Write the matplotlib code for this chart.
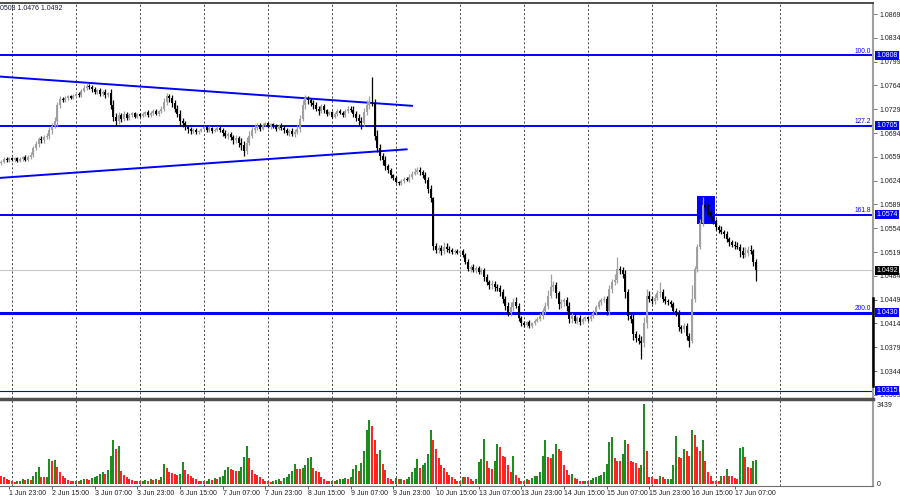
import matplotlib.pyplot as plt
import matplotlib.transforms as mtransforms
from matplotlib.patches import Rectangle
from matplotlib.lines import Line2D
import numpy as np

plt.rcParams['font.family'] = ['Liberation Sans', 'DejaVu Sans']

# EURUSD H1, 1 Jun 20:00 .. 17 Jun 15:00. Prices in pips above 1.0000
first_open = 650
closes = [
    652, 656, 654, 657,  # 1 Jun
    655, 657, 653, 656, 658, 655, 659, 662, 672, 678, 685, 683, 688, 690, 698, 705, 712, 735, 744, 742, 745, 748, 746, 749,  # 2 Jun
    752, 750, 756, 760, 763, 761, 758, 755, 757, 752, 755, 750, 753, 735, 718, 712, 720, 714, 722, 716, 720, 723, 718, 722,  # 3 Jun
    719, 722, 725, 720, 724, 727, 722, 726, 730, 740, 748, 745, 738, 730, 722, 712, 708, 703, 700, 697, 699, 695, 697, 700,  # 6 Jun
    703, 698, 701, 697, 699, 702, 698, 694, 690, 692, 688, 684, 686, 680, 676, 668, 680, 690, 698, 702, 705, 700, 706, 708,  # 7 Jun
    703, 707, 704, 700, 705, 702, 698, 694, 697, 692, 695, 700, 715, 735, 745, 742, 738, 735, 730, 726, 733, 728, 722, 725,  # 8 Jun
    718, 722, 727, 724, 720, 726, 730, 728, 722, 716, 712, 708, 725, 735, 740, 738, 690, 672, 660, 655, 645, 640, 632, 628,  # 9 Jun
    622, 620, 624, 627, 625, 630, 634, 637, 640, 636, 632, 625, 612, 598, 528, 522, 525, 520, 527, 524, 522, 519, 521, 518,  # 10 Jun
    520, 514, 505, 494, 497, 492, 495, 490, 492, 482, 475, 470, 472, 468, 466, 460, 450, 440, 430, 438, 446, 440, 422, 414,  # 13 Jun
    412, 416, 410, 414, 418, 420, 425, 432, 440, 455, 468, 470, 458, 442, 446, 448, 440, 420, 425, 418, 422, 416, 420, 423,  # 14 Jun
    420, 425, 430, 438, 445, 448, 450, 432, 465, 475, 478, 494, 492, 486, 460, 425, 420, 398, 392, 388, 385, 415, 455, 450,  # 15 Jun
    447, 452, 458, 460, 450, 447, 445, 443, 432, 430, 408, 406, 410, 395, 388, 450, 494, 527, 562, 588, 585, 578, 570, 564,  # 16 Jun
    556, 552, 548, 545, 538, 533, 530, 528, 526, 520, 515, 518, 522, 520, 505, 492,  # 17 Jun
]
up_wick = [
    2, 3, 2, 2,
    2, 2, 1, 2, 2, 3, 2, 4, 3, 4, 3, 5, 3, 4, 5, 4, 6, 4, 5, 3, 3, 2, 2, 2,
    2, 2, 3, 4, 5, 3, 3, 4, 2, 3, 2, 3, 2, 5, 8, 6, 5, 4, 4, 3, 3, 2, 2, 2,
    2, 3, 2, 3, 2, 3, 3, 2, 4, 6, 5, 4, 5, 4, 5, 6, 4, 4, 3, 3, 3, 2, 2, 2,
    2, 2, 3, 2, 2, 3, 2, 3, 4, 3, 4, 3, 5, 4, 6, 6, 8, 7, 5, 5, 4, 3, 3, 2,
    2, 2, 2, 3, 2, 3, 3, 4, 3, 4, 5, 6, 6, 7, 5, 4, 4, 4, 5, 3, 4, 3, 2, 2,
    2, 3, 2, 3, 2, 3, 3, 4, 5, 4, 6, 5, 6, 8, 8, 37, 6, 8, 6, 5, 5, 4, 3, 2,
    3, 2, 3, 2, 3, 4, 4, 5, 4, 4, 3, 4, 5, 6, 2, 4, 5, 4, 6, 5, 4, 3, 3, 2,
    2, 3, 3, 4, 3, 4, 3, 4, 3, 4, 5, 3, 6, 5, 4, 4, 5, 4, 6, 8, 5, 7, 4, 3,
    3, 2, 3, 2, 3, 3, 4, 4, 5, 8, 18, 6, 5, 4, 4, 3, 5, 5, 4, 5, 3, 4, 3, 2,
    2, 3, 3, 3, 4, 3, 4, 5, 6, 5, 8, 17, 4, 5, 6, 4, 6, 8, 5, 6, 7, 8, 10, 6,
    4, 5, 5, 15, 4, 4, 3, 4, 3, 4, 4, 3, 5, 4, 5, 20, 5, 4, 5, 12, 6, 5, 4, 3,
    4, 3, 5, 4, 5, 3, 4, 5, 6, 5, 6, 8, 6, 8, 4, 3,
]
dn_wick = [
    3, 2, 3, 2,
    2, 3, 2, 2, 3, 2, 2, 3, 4, 3, 4, 3, 4, 3, 5, 6, 4, 8, 4, 3, 3, 2, 2, 2,
    2, 3, 3, 2, 3, 3, 4, 3, 3, 4, 3, 4, 3, 6, 6, 8, 5, 4, 3, 3, 3, 3, 2, 2,
    2, 2, 3, 2, 2, 3, 2, 3, 3, 4, 5, 5, 6, 5, 4, 8, 5, 5, 6, 4, 3, 3, 2, 2,
    2, 3, 2, 3, 2, 2, 3, 4, 3, 5, 4, 6, 4, 6, 7, 8, 5, 4, 4, 4, 4, 3, 2, 2,
    2, 3, 2, 3, 2, 3, 4, 3, 4, 3, 4, 3, 5, 4, 6, 5, 5, 5, 4, 5, 3, 4, 3, 2,
    2, 2, 3, 2, 3, 2, 3, 3, 4, 5, 6, 8, 4, 5, 5, 4, 6, 6, 5, 8, 6, 5, 4, 3,
    2, 3, 2, 3, 2, 3, 3, 2, 3, 4, 4, 5, 6, 5, 6, 4, 5, 6, 4, 5, 4, 3, 3, 2,
    2, 3, 4, 3, 4, 3, 4, 3, 4, 5, 4, 5, 5, 6, 5, 6, 6, 7, 5, 5, 6, 4, 5, 4,
    3, 4, 3, 3, 3, 2, 3, 4, 4, 5, 4, 6, 6, 7, 5, 6, 8, 6, 5, 4, 5, 4, 3, 2,
    2, 2, 3, 3, 3, 4, 3, 5, 5, 6, 5, 5, 6, 5, 8, 6, 6, 8, 6, 5, 23, 6, 8, 5,
    5, 4, 4, 5, 5, 4, 4, 5, 4, 5, 5, 6, 4, 6, 8, 3, 4, 5, 4, 5, 6, 5, 5, 4,
    4, 5, 3, 5, 4, 5, 4, 5, 3, 8, 5, 4, 5, 4, 6, 16,
]
volumes = [
    340, 300, 215, 170,
    120, 90, 110, 150, 200, 180, 220, 160, 350, 500, 730, 300, 280, 320, 1075, 1000, 1050, 720, 500, 350, 250, 180, 150, 120,
    150, 130, 180, 220, 200, 160, 250, 300, 350, 450, 500, 420, 600, 1200, 1900, 1500, 1650, 550, 380, 300, 220, 160, 150, 120,
    120, 150, 180, 140, 200, 170, 220, 180, 300, 850, 700, 500, 480, 420, 380, 450, 930, 600, 450, 350, 260, 200, 150, 130,
    120, 150, 200, 180, 250, 230, 300, 350, 600, 720, 650, 600, 550, 580, 720, 1150, 1650, 1100, 600, 450, 380, 300, 200, 150,
    120, 100, 150, 180, 200, 150, 250, 300, 450, 570, 860, 650, 650, 700, 800, 1100, 1150, 700, 550, 500, 300, 200, 150, 130,
    150, 120, 180, 200, 220, 250, 200, 300, 650, 800, 570, 900, 1400, 2300, 2750, 2500, 1900, 1300, 1450, 860, 600, 250, 200, 150,
    250, 200, 220, 180, 230, 300, 500, 700, 1075, 700, 800, 900, 1300, 2300, 1900, 1500, 1100, 800, 700, 500, 400, 300, 220, 150,
    120, 290, 290, 290, 215, 150, 200, 930, 1075, 1950, 1000, 700, 650, 1000, 1700, 1600, 1200, 1150, 800, 500, 1200, 400, 250, 150,
    150, 200, 180, 250, 350, 360, 500, 1200, 1900, 1150, 1100, 1300, 1700, 1500, 1400, 800, 600, 400, 430, 250, 200, 150, 130, 150,
    150, 180, 250, 300, 360, 400, 500, 860, 1800, 2000, 1100, 1000, 1000, 1300, 1900, 1700, 1000, 930, 900, 700, 800, 3439, 1400, 290,
    290, 215, 200, 360, 300, 200, 215, 220, 800, 2050, 1150, 1100, 1500, 1400, 1200, 2300, 2100, 1600, 1400, 1900, 1000, 500, 360, 150,
    150, 120, 360, 360, 650, 360, 360, 250, 200, 1550, 1600, 1150, 720, 700, 1000, 1050,
]

# bar index 0 = 2 Jun 00:00
day_starts = [0, 24, 48, 72, 96, 120, 144, 168, 192, 216, 240, 264, 288]
tick_pos = [-1, 15, 31, 47, 63, 79, 95, 111, 127, 143, 159, 175, 191, 207, 223, 239, 255, 271]
tick_labels = ['1 Jun 23:00', '2 Jun 15:00', '3 Jun 07:00', '3 Jun 23:00', '6 Jun 15:00',
               '7 Jun 07:00', '7 Jun 23:00', '8 Jun 15:00', '9 Jun 07:00', '9 Jun 23:00',
               '10 Jun 15:00', '13 Jun 07:00', '13 Jun 23:00', '14 Jun 15:00', '15 Jun 07:00',
               '15 Jun 23:00', '16 Jun 15:00', '17 Jun 07:00']
price_ticks = [1.0869, 1.0834, 1.0799, 1.0764, 1.0729, 1.0694, 1.0659, 1.0624, 1.0589,
               1.0554, 1.0519, 1.0484, 1.0449, 1.0414, 1.0379, 1.0344, 1.0309]

fib_levels = [1.0808, 1.0705, 1.0574, 1.0430]
fib_names = ['100.0', '127.2', '161.8', '200.0']
fib_widths = [1.4, 1.4, 1.4, 2.2]
low_level = 1.0315
bid = 1.0492

tri_upper_x, tri_upper_y = [-4.5, 150], [1.0777, 1.0734]
tri_lower_x, tri_lower_y = [-4.5, 148], [1.0628, 1.0670]
box_x, box_y = [256.8, 263.6], [1.0560, 1.0601]

c = np.array(closes) / 10000 + 1.0
o = np.r_[first_open / 10000 + 1.0, c[:-1]]
hi = np.maximum(o, c) + np.array(up_wick) / 10000
lo = np.minimum(o, c) - np.array(dn_wick) / 10000
x = np.arange(len(c)) - 4
vol = np.array(volumes)

blue = '#0000ff'
bull_col = '#a0a0a0'
bear_col = '#000000'

fig = plt.figure(figsize=(9, 5), dpi=100)
ax = fig.add_axes([0, 1 - 398 / 500, 873 / 900, 395 / 500])
axv = fig.add_axes([0, 1 - 486 / 500, 873 / 900, 86 / 500], sharex=ax)

for d in day_starts:
    for a in (ax, axv):
        a.axvline(d, color='black', lw=0.5, ls=(0, (3, 3)), zorder=0)

ax.add_patch(Rectangle((box_x[0], box_y[0]), box_x[1] - box_x[0], box_y[1] - box_y[0],
                       color=blue, lw=0, zorder=1))

for lvl, w in zip(fib_levels, fib_widths):
    ax.axhline(lvl, color=blue, lw=w, zorder=2)
ax.axhline(low_level, color=blue, lw=0.8, zorder=2)
ax.axhline(bid, color='#c8c8c8', lw=0.8, zorder=1)

ax.plot(tri_upper_x, tri_upper_y, color=blue, lw=1.4, zorder=2)
ax.plot(tri_lower_x, tri_lower_y, color=blue, lw=1.4, zorder=2)

bull = c >= o
for m, col in ((bull, bull_col), (~bull, bear_col)):
    ax.vlines(x[m], lo[m], hi[m], color=col, lw=0.9, zorder=3)
    body = np.maximum(np.abs(c[m] - o[m]), 0.00005)
    ax.bar(x[m], body, bottom=np.minimum(o[m], c[m]), width=0.8, color=col, lw=0, zorder=3)

ax.set_xlim(-4.5, 322.9)
ax.set_ylim(1.03043, 1.08852)

ax.yaxis.tick_right()
ax.set_yticks(price_ticks)
ax.set_yticklabels([f'{p:.4f}' for p in price_ticks])
ax.tick_params(axis='y', direction='out', length=3, width=0.6, color='#606060',
               labelsize=5, labelcolor='#202020', pad=1.5)
ax.tick_params(axis='x', bottom=False, labelbottom=False)
for s in ('left', 'bottom'):
    ax.spines[s].set_visible(False)
ax.spines['top'].set_color('#303030')
ax.spines['top'].set_linewidth(1.2)
ax.spines['right'].set_color('#a0a0a0')
ax.spines['right'].set_linewidth(1.5)

trans = mtransforms.blended_transform_factory(ax.transAxes, ax.transData)
for lvl, name in zip(fib_levels, fib_names):
    ax.text(0.998, lvl + 0.00005, name, transform=trans, ha='right', va='bottom',
            fontsize=4.8, color=blue, zorder=4)
for lvl in fib_levels + [low_level]:
    ax.text(1.004, lvl, f'{lvl:.4f}', transform=trans, ha='left', va='center', fontsize=5,
            color='white', clip_on=False, zorder=5,
            bbox=dict(boxstyle='square,pad=0.15', fc=blue, ec='none'))
ax.text(1.004, bid, f'{bid:.4f}', transform=trans, ha='left', va='center', fontsize=5,
        color='white', clip_on=False, zorder=5,
        bbox=dict(boxstyle='square,pad=0.15', fc='black', ec='none'))

# volumes: green when rising vs previous bar, red when falling
up_vol = np.r_[False, vol[1:] > vol[:-1]]
axv.bar(x[up_vol], vol[up_vol], width=0.8, color='#1e8c1e', lw=0, zorder=3)
axv.bar(x[~up_vol], vol[~up_vol], width=0.8, color='#ff2424', lw=0, zorder=3)
axv.set_ylim(-86, 3611)
axv.yaxis.tick_right()
axv.set_yticks([0, 3439])
axv.set_yticklabels(['0', '3439'])
axv.tick_params(axis='y', length=0, labelsize=5, labelcolor='#202020', pad=3)
axv.set_xticks(tick_pos)
axv.set_xticklabels(tick_labels)
axv.tick_params(axis='x', direction='out', length=2, width=0.6, color='#404040',
                labelsize=5, labelcolor='#202020', pad=1)
for lab in axv.get_xticklabels():
    lab.set_ha('left')
for s in ('left', 'top'):
    axv.spines[s].set_visible(False)
axv.spines['bottom'].set_color('#707070')
axv.spines['right'].set_color('#a0a0a0')
axv.spines['right'].set_linewidth(1.5)

fig.add_artist(Line2D([0, 873 / 900], [1 - 399 / 500] * 2, lw=2.5, color='#505050'))
fig.add_artist(Line2D([872.5 / 900] * 2, [1 - 298 / 500, 1 - 386 / 500], lw=1.8, color='black'))
fig.text(0.0, 1 - 8 / 500, '0508 1.0476 1.0492', fontsize=5, color='#1a1a40', va='center')

fig.savefig('out.png', dpi=100)
